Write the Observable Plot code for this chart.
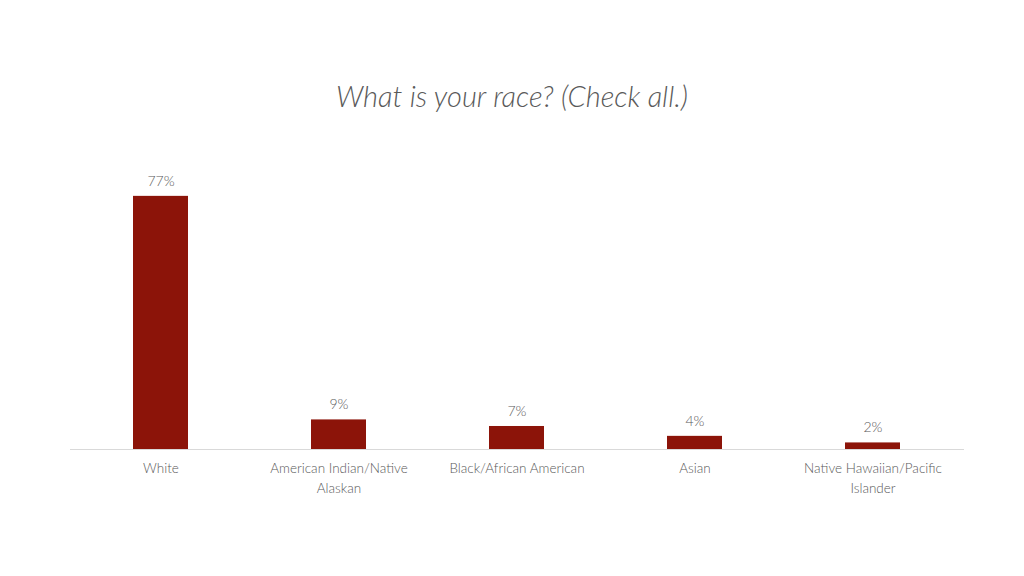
<!DOCTYPE html>
<html>
<head>
<meta charset="utf-8">
<script src="https://cdn.jsdelivr.net/npm/d3@7"></script>
<script src="https://cdn.jsdelivr.net/npm/@observablehq/plot@0.6"></script>
<style>
  html, body { margin: 0; padding: 0; background: #fff; }
  #wrap { width: 1024px; height: 576px; position: relative; }
  #title { height: 150px; box-sizing: border-box; padding-top: 81px; text-align: center;
    font-family: Lato, "Open Sans", sans-serif; font-style: italic; font-weight: 300;
    font-size: 29px; color: #595959; line-height: 1; }
  #chart svg text { font-weight: 300; }
</style>
</head>
<body>
<div id="wrap">
  <div id="title">What is your race? (Check all.)</div>
  <div id="chart"></div>
</div>
<script>
const categories = ["White", "American Indian/Native Alaskan", "Black/African American", "Asian", "Native Hawaiian/Pacific Islander"];
const tickLabels = ["White", "American Indian/Native\nAlaskan", "Black/African American", "Asian", "Native Hawaiian/Pacific\nIslander"];
const values = [77, 9, 7, 4, 2];

const data = categories.map((c, i) => ({category: c, value: values[i], label: tickLabels[i]}));
const labelOf = new Map(data.map(d => [d.category, d.label]));

const chart = Plot.plot({
  width: 1024,
  height: 426,
  marginTop: 36,
  marginBottom: 127,
  marginLeft: 70,
  marginRight: 60,
  style: {fontFamily: "Lato, 'Open Sans', sans-serif", color: "#595959", background: "#fff"},
  x: {domain: categories, paddingInner: 0.69, paddingOuter: 0.345, align: 0.5},
  y: {domain: [0, 80], axis: null},
  marks: [
    Plot.barY(data, {x: "category", y: "value", fill: "#8c1409"}),
    Plot.ruleY([0], {stroke: "#d9d9d9", strokeWidth: 1}),
    Plot.text(data, {x: "category", y: "value", text: d => d.value + "%", dy: -15, fontSize: 14, fill: "#595959"}),
    Plot.axisX({tickSize: 0, tickPadding: 10, fontSize: 13.5, lineHeight: 1.45,
      tickFormat: c => labelOf.get(c), label: null, fill: "#595959", textAnchor: "middle"})
  ]
});
document.getElementById("chart").appendChild(chart);
</script>
</body>
</html>
